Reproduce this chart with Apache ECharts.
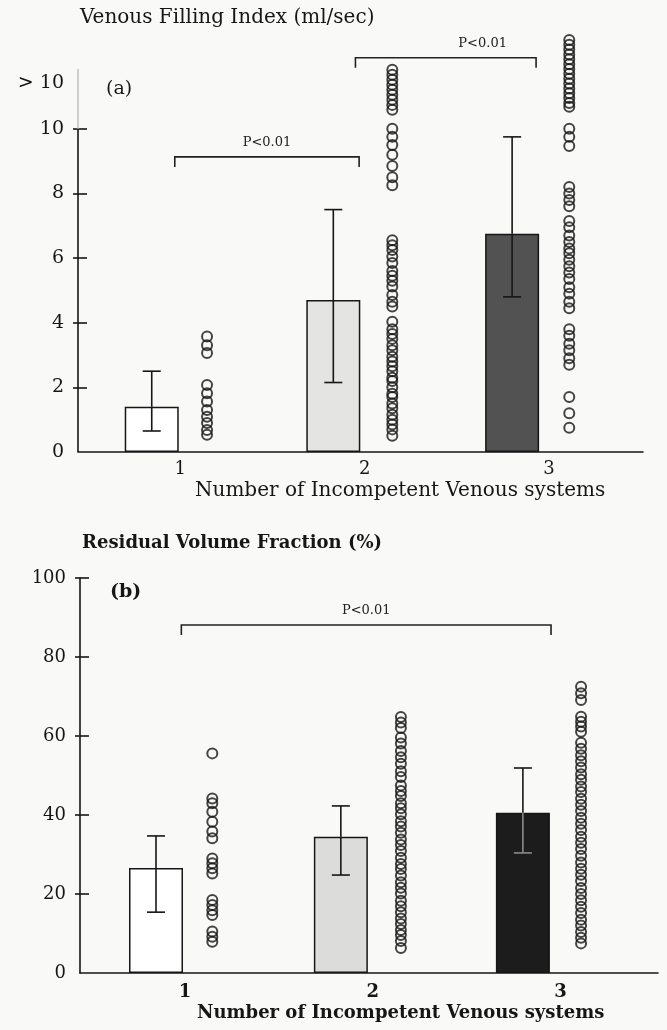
<!DOCTYPE html>
<html>
<head>
<meta charset="utf-8">
<script src="https://cdn.jsdelivr.net/npm/echarts@6/dist/echarts.min.js"></script>
<style>
  html, body { margin: 0; padding: 0; background: #f9f9f8; }
  #chart { width: 667px; height: 1030px; }
</style>
</head>
<body>
<div id="chart"></div>
<script>
// 分组（功能不全的静脉系统数目）
var groups = [1, 2, 3];
var groupLabels = ['1', '2', '3'];

// (a) 静脉充盈指数 ml/sec：均值与误差范围
var meanA = [1.4, 4.7, 6.75];
var lowA = [0.65, 2.15, 4.8];
var highA = [2.5, 7.5, 9.75];

// (a) 个体数据（>10 的点按原图堆在顶部）
var pointsA1 = [3.57, 3.3, 3.06, 2.07, 1.82, 1.56, 1.3, 1.09, 0.9, 0.68, 0.53];
var pointsA2 = [11.83, 11.67, 11.52, 11.36, 11.21, 11.05, 10.9, 10.74, 10.59,
  10.0, 9.75, 9.5, 9.2, 8.85, 8.5, 8.25,
  6.55, 6.4, 6.25, 6.05, 5.85, 5.6, 5.45, 5.3, 5.12, 4.86, 4.65, 4.5,
  4.03, 3.8, 3.65, 3.5, 3.3, 3.15, 2.95, 2.8, 2.65, 2.5, 2.3, 2.2, 2.0,
  1.8, 1.7, 1.5, 1.35, 1.15, 1.0, 0.85, 0.7, 0.5];
var pointsA3 = [12.75, 12.6, 12.45, 12.3, 12.15, 12.0, 11.85, 11.7, 11.55, 11.4,
  11.25, 11.1, 10.95, 10.8, 10.68,
  10.0, 9.75, 9.47,
  8.2, 8.0, 7.8, 7.6,
  7.15, 6.95, 6.7,
  6.5, 6.3, 6.15, 5.95, 5.75, 5.55, 5.35, 5.1, 4.9, 4.65, 4.45,
  3.8, 3.6, 3.35, 3.15, 2.9, 2.7,
  1.7, 1.2, 0.75];

// (b) 残余容积分数 %
var meanB = [26.6, 34.5, 40.6];
var lowB = [15.4, 24.8, 30.4];
var highB = [34.7, 42.3, 51.9];

var pointsB1 = [55.6, 44.2, 43.0, 40.8, 38.3, 35.8, 34.1, 29.0, 27.8, 26.5, 25.2,
  18.5, 17.2, 15.9, 14.7, 10.5, 9.2, 7.9];
var pointsB2 = [64.8, 63.4, 62.0, 59.6, 58.1, 56.2, 54.6, 53.0, 51.1, 49.6, 47.5,
  46.1, 44.8, 43.0, 41.7, 40.2, 38.4, 37.1, 35.5, 33.8, 32.4, 30.9, 29.2, 27.6,
  26.3, 24.7, 23.0, 21.6, 20.1, 18.3, 16.9, 15.4, 13.8, 12.4, 10.9, 9.6, 8.1, 6.3];
var pointsB3 = [72.5, 70.8, 69.1, 64.9, 63.6, 62.4, 61.1, 58.3, 56.8, 55.1, 53.6,
  52.0, 50.3, 48.9, 47.2, 45.8, 44.1, 42.6, 41.0, 39.3, 37.8, 36.2, 34.5, 33.0,
  31.4, 29.7, 28.0, 26.4, 24.9, 23.3, 21.5, 20.0, 18.4, 16.8, 15.2, 13.5, 12.0,
  10.4, 8.9, 7.5];

// 显著性标注
var pLabel = 'P<0.01';
var bracketFromA = [0.97, 1.95];
var bracketToA = [1.97, 2.93];
var bracketYA = [9.13, 12.2];
var bracketFromB = [0.98];
var bracketToB = [2.95];
var bracketYB = [88.1];

// y 轴刻度
var ticksA = [2, 4, 6, 8, 10];
var labelsA = [0, 2, 4, 6, 8, 10, 11.4];
var ticksB = [20, 40, 60, 80, 100];

// 版式
var FONT = 'DejaVu Serif';
var INK = '#161616';
var barShift = [-0.155, -0.17, -0.2];
var dotShift = [0.145, 0.15, 0.11];
var textShiftA = [0.5, 0.69];
var fillA = ['#ffffff', '#e4e4e2', '#525252'];
var fillB = ['#ffffff', '#dcdcda', '#1c1c1c'];
var X_MIN_A = 0.445, X_MAX_A = 3.51, Y_MAX_A = 11.85;
var X_MIN_B = 0.44, X_MAX_B = 3.52;

function barData(means, fills) {
  return means.map(function (m, i) {
    return { value: [groups[i] + barShift[i], m], itemStyle: { color: fills[i] } };
  });
}

function dotData(lists) {
  var out = [];
  lists.forEach(function (list, i) {
    list.forEach(function (v) { out.push([groups[i] + dotShift[i], v]); });
  });
  return out;
}

function errData(means, lows, highs, fills) {
  return means.map(function (m, i) {
    return [groups[i] + barShift[i], lows[i], highs[i], m, fills[i] === '#1c1c1c' ? 1 : 0];
  });
}

function renderErr(params, api) {
  var x = api.value(0);
  var lo = api.coord([x, api.value(1)]);
  var hi = api.coord([x, api.value(2)]);
  var mid = api.coord([x, api.value(3)]);
  var inner = api.value(4) ? '#8a8a8a' : INK;
  var cap = 9;
  var st = { stroke: INK, lineWidth: 1.6 };
  return {
    type: 'group',
    children: [
      { type: 'line', shape: { x1: hi[0], y1: hi[1], x2: mid[0], y2: mid[1] }, style: st },
      { type: 'line', shape: { x1: mid[0], y1: mid[1], x2: lo[0], y2: lo[1] }, style: { stroke: inner, lineWidth: 1.6 } },
      { type: 'line', shape: { x1: hi[0] - cap, y1: hi[1], x2: hi[0] + cap, y2: hi[1] }, style: st },
      { type: 'line', shape: { x1: lo[0] - cap, y1: lo[1], x2: lo[0] + cap, y2: lo[1] }, style: { stroke: inner, lineWidth: 1.6 } }
    ]
  };
}

function renderBracket(params, api) {
  var a = api.coord([api.value(0), api.value(2)]);
  var b = api.coord([api.value(1), api.value(2)]);
  var t = api.coord([api.value(3), api.value(2)]);
  return {
    type: 'group',
    children: [
      {
        type: 'polyline',
        shape: { points: [[a[0], a[1] + 10], [a[0], a[1]], [b[0], b[1]], [b[0], b[1] + 10]] },
        style: { stroke: '#222', lineWidth: 1.6, fill: 'none' }
      },
      {
        type: 'text',
        style: { text: pLabel, x: t[0], y: t[1] - 14, align: 'center', verticalAlign: 'middle', font: '13px "' + FONT + '"', fill: '#222' }
      }
    ]
  };
}

// (a) 纵轴线：0–10 实线，>10 段为浅灰
function renderAxisA(params, api) {
  var p1 = api.coord([X_MIN_A, api.value(0)]);
  var p2 = api.coord([X_MIN_A, api.value(1)]);
  return {
    type: 'line',
    shape: { x1: p1[0], y1: p1[1], x2: p2[0], y2: p2[1] },
    style: { stroke: api.value(2) ? '#c4c4c4' : INK, lineWidth: 1.6 }
  };
}

var chart = echarts.init(document.getElementById('chart'));

var baseLabel = { fontFamily: FONT, color: INK };

var option = {
  backgroundColor: '#f9f9f8',
  animation: false,
  grid: [
    { left: 78, right: 24, top: 69, bottom: 578 },
    { left: 80, right: 9, top: 578, bottom: 57 }
  ],
  xAxis: [
    {
      type: 'value', gridIndex: 0, min: X_MIN_A, max: X_MAX_A,
      splitLine: { show: false },
      axisLine: { lineStyle: { color: INK, width: 1.6 } },
      axisTick: { show: false },
      axisLabel: Object.assign({ customValues: groups, fontSize: 18, margin: 8,
        formatter: function (v) { return groupLabels[Math.round(v) - 1]; } }, baseLabel)
    },
    {
      type: 'value', gridIndex: 1, min: X_MIN_B, max: X_MAX_B,
      splitLine: { show: false },
      axisLine: { lineStyle: { color: INK, width: 1.6 } },
      axisTick: { show: false },
      axisLabel: Object.assign({ customValues: groups, fontSize: 18, fontWeight: 'bold', margin: 10,
        formatter: function (v) { return groupLabels[Math.round(v) - 1]; } }, baseLabel)
    }
  ],
  yAxis: [
    {
      type: 'value', gridIndex: 0, position: 'left', min: 0, max: Y_MAX_A,
      splitLine: { show: false },
      axisLine: { show: false },
      axisTick: { show: true, customValues: ticksA, length: 5, lineStyle: { color: INK, width: 1.6 } },
      axisLabel: Object.assign({ customValues: labelsA, fontSize: 19, margin: 14,
        formatter: function (v) { return v > 10.5 ? '> 10' : String(v); } }, baseLabel)
    },
    {
      type: 'value', gridIndex: 0, position: 'left', min: 0, max: Y_MAX_A,
      splitLine: { show: false },
      axisLine: { show: true, lineStyle: { opacity: 0 } },
      axisTick: { show: true, inside: true, customValues: ticksA, length: 9, lineStyle: { color: INK, width: 1.6 } },
      axisLabel: { show: false }
    },
    {
      type: 'value', gridIndex: 1, position: 'left', min: 0, max: 100, interval: 20,
      splitLine: { show: false },
      axisLine: { show: true, lineStyle: { color: INK, width: 1.6 } },
      axisTick: { show: true, customValues: ticksB, length: 5, lineStyle: { color: INK, width: 1.6 } },
      axisLabel: Object.assign({ fontSize: 18, margin: 14 }, baseLabel)
    },
    {
      type: 'value', gridIndex: 1, position: 'left', min: 0, max: 100, interval: 20,
      splitLine: { show: false },
      axisLine: { show: true, lineStyle: { opacity: 0 } },
      axisTick: { show: true, inside: true, customValues: ticksB, length: 9, lineStyle: { color: INK, width: 1.6 } },
      axisLabel: { show: false }
    }
  ],
  graphic: [
    { type: 'text', left: 80, top: 8, style: { text: 'Venous Filling Index (ml/sec)', font: '20px "' + FONT + '"', fill: INK } },
    { type: 'text', left: 106, top: 80, style: { text: '(a)', font: '19px "' + FONT + '"', fill: INK } },
    { type: 'text', left: 195, top: 481, style: { text: 'Number of Incompetent Venous systems', font: '20px "' + FONT + '"', fill: INK } },
    { type: 'text', left: 82, top: 534, style: { text: 'Residual Volume Fraction (%)', font: 'bold 18px "' + FONT + '"', fill: INK } },
    { type: 'text', left: 110, top: 583, style: { text: '(b)', font: 'bold 19px "' + FONT + '"', fill: INK } },
    { type: 'text', left: 197, top: 1004, style: { text: 'Number of Incompetent Venous systems', font: 'bold 18px "' + FONT + '"', fill: INK } }
  ],
  series: [
    {
      type: 'custom', xAxisIndex: 0, yAxisIndex: 0, renderItem: renderAxisA,
      data: [[0, 10, 0], [10, Y_MAX_A, 1]], silent: true
    },
    {
      type: 'bar', xAxisIndex: 0, yAxisIndex: 0, barWidth: 54,
      itemStyle: { borderColor: INK, borderWidth: 1.5 },
      data: barData(meanA, fillA)
    },
    {
      type: 'custom', xAxisIndex: 0, yAxisIndex: 0, renderItem: renderErr,
      data: errData(meanA, lowA, highA, fillA), z: 5
    },
    {
      type: 'scatter', xAxisIndex: 0, yAxisIndex: 0, clip: false,
      symbol: 'circle', symbolSize: 10,
      itemStyle: { color: 'rgba(0,0,0,0)', borderColor: INK, borderWidth: 2 },
      data: dotData([pointsA1, pointsA2, pointsA3])
    },
    {
      type: 'custom', xAxisIndex: 0, yAxisIndex: 0, renderItem: renderBracket, clip: false,
      data: bracketFromA.map(function (f, i) { return [f, bracketToA[i], bracketYA[i], f + textShiftA[i]]; })
    },
    {
      type: 'bar', xAxisIndex: 1, yAxisIndex: 2, barWidth: 54,
      itemStyle: { borderColor: INK, borderWidth: 1.5 },
      data: barData(meanB, fillB)
    },
    {
      type: 'custom', xAxisIndex: 1, yAxisIndex: 2, renderItem: renderErr,
      data: errData(meanB, lowB, highB, fillB), z: 5
    },
    {
      type: 'scatter', xAxisIndex: 1, yAxisIndex: 2, clip: false,
      symbol: 'circle', symbolSize: 10,
      itemStyle: { color: 'rgba(0,0,0,0)', borderColor: INK, borderWidth: 2 },
      data: dotData([pointsB1, pointsB2, pointsB3])
    },
    {
      type: 'custom', xAxisIndex: 1, yAxisIndex: 2, renderItem: renderBracket, clip: false,
      data: bracketFromB.map(function (f, i) { return [f, bracketToB[i], bracketYB[i], (f + bracketToB[i]) / 2]; })
    }
  ]
};

chart.setOption(option);

window.addEventListener('resize', function () {
  chart.resize();
});
</script>
</body>
</html>
